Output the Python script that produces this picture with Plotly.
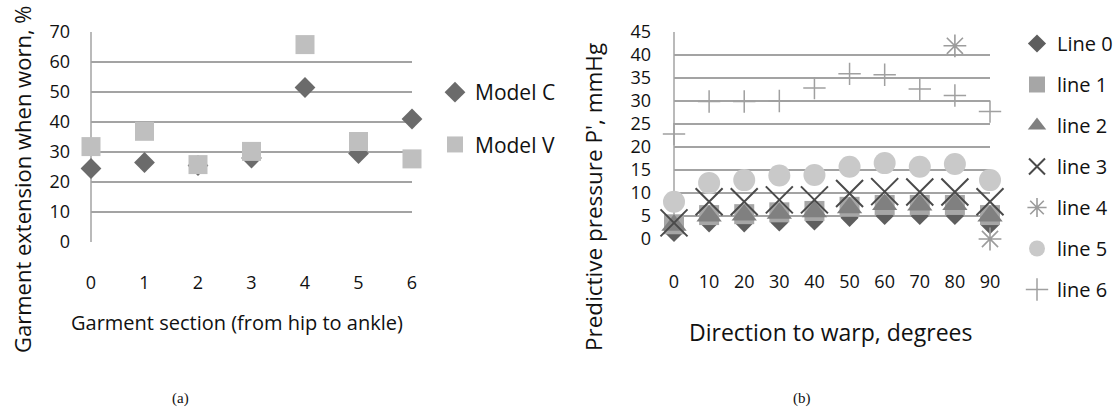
import plotly.graph_objects as go

# ---- Panel (a) data ----
sections = [0, 1, 2, 3, 4, 5, 6]
model_c = [24.5, 26.5, 25.5, 28.0, 51.5, 29.5, 41.0]
model_v = [31.8, 36.9, 25.8, 30.2, 65.8, 33.5, 27.7]
a_yticks = [0, 10, 20, 30, 40, 50, 60, 70]

# ---- Panel (b) data ----
directions = [0, 10, 20, 30, 40, 50, 60, 70, 80, 90]
line0 = [1.3, 3.4, 3.4, 3.6, 3.8, 4.6, 5.0, 5.0, 5.0, 3.0]
line1 = [3.2, 5.2, 5.4, 5.8, 6.1, 7.0, 7.4, 7.4, 7.4, 5.2]
line2 = [3.0, 5.0, 5.2, 5.6, 5.9, 6.8, 7.5, 7.4, 7.5, 5.0]
line3 = [3.5, 8.1, 8.1, 8.5, 8.5, 9.9, 10.3, 10.2, 10.2, 8.1]
line4 = [None, None, None, None, None, None, None, None, 42.0, 0.0]
line5 = [8.1, 12.2, 12.8, 13.8, 13.9, 15.7, 16.5, 15.7, 16.3, 12.8]
line6 = [22.8, 29.9, 29.9, 30.0, 32.8, 35.9, 35.7, 32.6, 31.2, 27.7]
b_yticks = [0, 5, 10, 15, 20, 25, 30, 35, 40, 45]

FONT = "Open Sans"
TXT = "#111111"
GRID = "#a3a3a3"
W, H = 1120, 410

fig = go.Figure()

# Panel (a)
fig.add_trace(go.Scatter(x=sections, y=model_c, mode="markers", name="Model C",
                         marker=dict(symbol="diamond", size=16, color="#6b6b6b"),
                         xaxis="x", yaxis="y", legend="legend", cliponaxis=False,
                         legendgroup="c"))
fig.add_trace(go.Scatter(x=sections, y=model_v, mode="markers", name="Model V",
                         marker=dict(symbol="square", size=19, color="#bfbfbf"),
                         xaxis="x", yaxis="y", legend="legend", cliponaxis=False,
                         legendgroup="v"))

# Panel (b)
b_series = [
    ("Line 0", line0, dict(symbol="diamond", size=14, color="#5e5e5e")),
    ("line 1", line1, dict(symbol="square", size=20, color="#a6a6a6")),
    ("line 2", line2, dict(symbol="triangle-up", size=22, color="#808080")),
    ("line 3", line3, dict(symbol="x-thin-open", size=27, color="#4a4a4a",
                           line=dict(width=2, color="#4a4a4a"))),
    ("line 4", line4, dict(symbol="asterisk-open", size=19, color="#9c9c9c",
                           line=dict(width=1.6, color="#9c9c9c"))),
    ("line 5", line5, dict(symbol="circle", size=22, color="#c9c9c9")),
    ("line 6", line6, dict(symbol="cross-thin-open", size=16, color="#a0a0a0",
                           line=dict(width=1.5, color="#a0a0a0"))),
]
for i, (nm, vals, mk) in enumerate(b_series):
    fig.add_trace(go.Scatter(x=directions, y=vals, mode="markers", name=nm,
                             marker=mk, xaxis="x2", yaxis="y2", legend="legend2",
                             legendgroup="b%d" % i, cliponaxis=False))


def px_x(p):
    return p / W


def px_y(p):
    return (H - p) / H


axis_common = dict(showline=False, zeroline=False, ticks="", automargin=False,
                   tickfont=dict(family=FONT, size=18, color=TXT))

fig.update_layout(
    template="none",
    width=W, height=H,
    margin=dict(l=0, r=0, t=0, b=0, autoexpand=False),
    paper_bgcolor="white", plot_bgcolor="white",
    font=dict(family=FONT, color=TXT),
    xaxis=dict(domain=[px_x(91), px_x(412)], range=[0, 6], tickvals=sections,
               showgrid=False, ticklabelstandoff=28, anchor="y", **axis_common),
    yaxis=dict(domain=[px_y(242), px_y(32)], range=[0, 70], tickvals=a_yticks,
               showgrid=True, gridcolor=GRID, gridwidth=1.5, ticklabelstandoff=20,
               anchor="x", **axis_common),
    xaxis2=dict(domain=[px_x(674), px_x(990)], range=[0, 90], tickvals=directions,
                showgrid=False, ticklabelstandoff=30, anchor="y2", **axis_common),
    yaxis2=dict(domain=[px_y(239), px_y(32)], range=[0, 45], tickvals=b_yticks,
                showgrid=True, gridcolor=GRID, gridwidth=1.5, ticklabelstandoff=22,
                anchor="x2", **axis_common),
    legend=dict(x=px_x(435), y=px_y(72), xanchor="left", yanchor="top",
                font=dict(family=FONT, size=21, color=TXT),
                bgcolor="rgba(0,0,0,0)", tracegroupgap=22, itemclick=False),
    legend2=dict(x=px_x(1017), y=px_y(24), xanchor="left", yanchor="top",
                 font=dict(family=FONT, size=20, color=TXT),
                 bgcolor="rgba(0,0,0,0)", tracegroupgap=12, itemclick=False),
    showlegend=True,
)

# vertical axis lines (left edge of each plot area)
fig.add_shape(type="line", xref="x domain", yref="y domain", x0=0, x1=0, y0=0, y1=1,
              line=dict(color=GRID, width=1.5), layer="below")
fig.add_shape(type="line", xref="x2 domain", yref="y2 domain", x0=0, x1=0, y0=0, y1=1,
              line=dict(color=GRID, width=1.5), layer="below")


# axis titles
def title(text, x, y, size, angle=0):
    fig.add_annotation(text=text, x=px_x(x), y=px_y(y), xref="paper", yref="paper",
                       xanchor="center", yanchor="middle", showarrow=False,
                       textangle=angle, font=dict(family=FONT, size=size, color=TXT))


title("Garment section (from hip to ankle)", 237, 322, 20)
title("Garment extension when worn, %", 22, 180, 22, -90)
title("Direction to warp, degrees", 830, 332, 23)
title("Predictive pressure P', mmHg", 593, 197, 22.5, -90)

# captions
for txt, cx in (("(a)", 180), ("(b)", 802)):
    fig.add_annotation(text=txt, x=px_x(cx), y=px_y(398), xref="paper", yref="paper",
                       xanchor="center", yanchor="middle", showarrow=False,
                       font=dict(family="Liberation Serif", size=15, color=TXT))

fig.write_html("out.html", config={"displayModeBar": False},
               post_script="document.body.style.margin='0px';")
